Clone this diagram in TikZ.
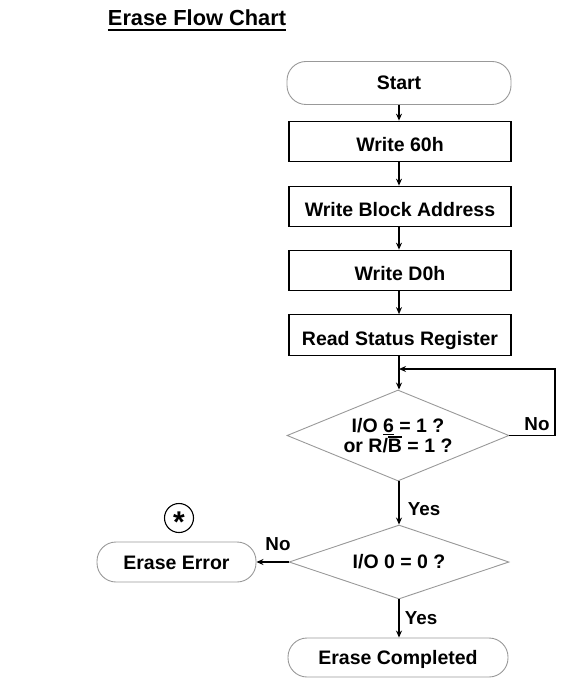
\documentclass[tikz,border=0pt]{standalone}
\usepackage{fontspec}
\setmainfont{Liberation Sans}
\usetikzlibrary{shapes.geometric,arrows.meta}
\newcommand\myobar[1]{\setbox0\hbox{#1}\rlap{\rule[\dimexpr\ht0+1.2pt\relax]{\wd0}{1.7pt}}\box0\relax}
\newcommand\myubar[1]{\setbox0\hbox{#1}\rlap{\rule[-2.6pt]{\wd0}{1.5pt}}\box0\relax}
\begin{document}
\begin{tikzpicture}[x=1pt,y=1pt,
  every node/.style={font=\bfseries\fontsize{19.5}{19.5}\selectfont},
  arr/.style={draw=black,line width=1.2pt,-{Stealth[length=7pt,width=6pt]}},
  procbox/.style={draw=black,line width=1.2pt,rectangle,minimum width=222pt,minimum height=40.5pt,inner sep=0pt,text height=20pt,text depth=0pt},
  termbox/.style={draw=black!40,line width=0.9pt,rectangle,rounded corners=19pt,inner sep=0pt,text height=14pt,text depth=0pt},
  decbox/.style={draw=black!40,line width=0.9pt,diamond,inner sep=0pt,align=center},
  lbl/.style={anchor=base,inner sep=0pt,font=\bfseries\fontsize{18.8}{19}\selectfont}]
\useasboundingbox (0,0) rectangle (578,-684);
\node[anchor=base,inner sep=0pt,font=\bfseries\fontsize{21.8}{24}\selectfont] (title) at (197,-26) {Erase Flow Chart};
\draw[line width=2pt] ([yshift=-4pt]title.base west) -- ([yshift=-4pt]title.base east);

\node[termbox,minimum width=224pt,minimum height=43pt] (start) at (399,-83) {Start};
\node[procbox] (w60) at (400,-141.5) {Write 60h};
\node[procbox] (wba) at (400,-206.5) {Write Block Address};
\node[procbox] (wd0) at (400,-270.5) {Write D0h};
\node[procbox] (rsr) at (400,-335) {Read Status Register};
\node[decbox,minimum width=222pt,minimum height=91pt,aspect=2.44] (d1) at (398,-435.5)
  {I/O \myubar{6} = 1 ?\\or R/\myobar{B} = 1 ?};
\node[decbox,minimum width=220pt,minimum height=74pt,aspect=2.97] (d2) at (399,-562) {I/O 0 = 0 ?};
\node[termbox,minimum width=159pt,minimum height=40pt] (err) at (176.5,-562) {Erase Error};
\node[termbox,minimum width=220pt,minimum height=39pt] (done) at (398,-657.5) {Erase Completed};
\node[draw=black,line width=1.1pt,circle,minimum size=29pt,inner sep=0pt] (star) at (179,-518) {};
\node[anchor=base,inner sep=0pt,font=\bfseries\fontsize{30}{30}\selectfont] (starglyph) at (179,-532.5) {*};

\coordinate (j) at (399,-369);
\coordinate (lp) at (555,-369);

\draw[arr] (start.south -| 399,0) -- (w60.north -| 399,0);
\draw[arr] (w60.south -| 399,0) -- (wba.north -| 399,0);
\draw[arr] (wba.south -| 399,0) -- (wd0.north -| 399,0);
\draw[arr] (wd0.south -| 399,0) -- (rsr.north -| 399,0);
\draw[arr] (rsr.south -| 399,0) -- (d1.north -| 399,0);
\draw[arr] (d1.east) -| (lp) -- (j);
\draw[arr] (d1.south -| 399,0) -- (d2.north -| 399,0);
\draw[arr] (d2.west) -- (err.east);
\draw[arr] (d2.south -| 399,0) -- (done.north -| 399,0);

\node[lbl] (no1) at (537,-430) {No};
\node[lbl] (yes1) at (424,-515) {Yes};
\node[lbl] (no2) at (278,-550) {No};
\node[lbl] (yes2) at (421,-624) {Yes};
\end{tikzpicture}
\end{document}
